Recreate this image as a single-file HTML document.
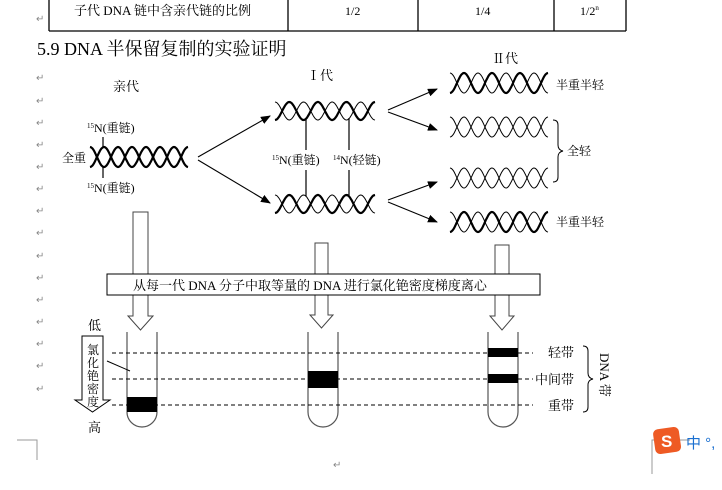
<!DOCTYPE html>
<html><head><meta charset="utf-8"><style>
html,body{margin:0;padding:0;background:#fff;width:722px;height:490px;overflow:hidden}
svg{display:block}
text{font-family:"Liberation Serif","Noto Serif CJK SC","Noto Sans CJK SC",serif;fill:#000}
.r{fill:#888;font-size:10px;font-family:"Liberation Sans",sans-serif}
</style></head><body>
<svg id="s" width="722" height="490" viewBox="0 0 722 490" xmlns="http://www.w3.org/2000/svg">
<!-- table -->
<g stroke="#000" stroke-width="1.3" fill="none">
<line x1="49" y1="0" x2="49" y2="31"/><line x1="288" y1="0" x2="288" y2="31"/>
<line x1="418" y1="0" x2="418" y2="31"/><line x1="554" y1="0" x2="554" y2="31"/>
<line x1="626" y1="0" x2="626" y2="31"/><line x1="49" y1="31" x2="626" y2="31"/>
</g>
<text x="74" y="15" font-size="13">子代 DNA 链中含亲代链的比例</text>
<text x="345" y="15" font-size="12">1/2</text>
<text x="475" y="15" font-size="12">1/4</text>
<text x="580" y="15" font-size="12">1/2<tspan font-size="7" dy="-5">n</tspan></text>
<text x="37" y="55" font-size="18">5.9 DNA 半保留复制的实验证明</text>
<text x="113" y="91" font-size="13">亲代</text>
<text x="307" y="80" font-size="13">Ⅰ代</text>
<text x="492" y="63" font-size="13">Ⅱ代</text>
<g id="marks"></g>
<g id="helix"></g>
<!-- parent labels -->
<g stroke="#000" stroke-width="1.2">
<line x1="103" y1="137" x2="103" y2="148"/><line x1="103" y1="167" x2="103" y2="178"/>
<line x1="306" y1="118" x2="306" y2="150"/><line x1="349" y1="118" x2="349" y2="150"/>
<line x1="306" y1="170" x2="306" y2="196"/><line x1="349" y1="170" x2="349" y2="196"/>
</g>
<text x="87" y="132" font-size="12"><tspan font-size="7" dy="-4">15</tspan><tspan dy="4">N(重链)</tspan></text>
<text x="87" y="192" font-size="12"><tspan font-size="7" dy="-4">15</tspan><tspan dy="4">N(重链)</tspan></text>
<text x="62" y="162" font-size="12">全重</text>
<text x="272" y="164" font-size="12"><tspan font-size="7" dy="-4">15</tspan><tspan dy="4">N(重链)</tspan></text>
<text x="333" y="164" font-size="12"><tspan font-size="7" dy="-4">14</tspan><tspan dy="4">N(轻链)</tspan></text>
<text x="556" y="89" font-size="12">半重半轻</text>
<text x="556" y="226" font-size="12">半重半轻</text>
<text x="567" y="155" font-size="12">全轻</text>
<path d="M553 120 q5 0 5 5 v20 q0 5 5 6 q-5 1 -5 6 v20 q0 5 -5 5" stroke="#000" fill="none"/>
<!-- arrows -->
<defs><marker id="a" markerWidth="10" markerHeight="8" refX="9" refY="4" orient="auto" markerUnits="userSpaceOnUse"><path d="M0 0 L10 4 L0 8z" fill="#000"/></marker></defs>
<g stroke="#000" stroke-width="1.1" marker-end="url(#a)">
<line x1="198" y1="157" x2="270" y2="116"/><line x1="198" y1="160" x2="270" y2="203"/>
<line x1="388" y1="110" x2="437" y2="89"/><line x1="388" y1="112" x2="437" y2="130"/>
<line x1="388" y1="200" x2="437" y2="182"/><line x1="388" y1="202" x2="437" y2="222"/>
</g>
<!-- block arrows -->
<g stroke="#444" fill="#fff" stroke-width="1">
<rect x="133" y="212" width="15" height="62"/>
<rect x="315" y="243" width="13" height="31"/>
<rect x="495" y="245" width="14" height="29"/>
<path d="M133 295 V316 H128 L140.5 330 L153 316 H148 V295"/>
<path d="M315 295 V315 H310 L321.5 328 L333 315 H328 V295"/>
<path d="M495 295 V316 H490 L502 330 L514 316 H509 V295"/>
</g>
<rect x="107" y="274" width="433" height="21" stroke="#000" fill="#fff"/>
<text x="133" y="290" font-size="13">从每一代 DNA 分子中取等量的 DNA 进行氯化铯密度梯度离心</text>
<!-- tubes -->
<g stroke="#555" stroke-width="1.2" fill="none">
<path d="M127 332 V412 a15 15 0 0 0 30 0 V332"/>
<path d="M308 332 V412 a15 15 0 0 0 30 0 V332"/>
<path d="M488 332 V412 a15 15 0 0 0 30 0 V332"/>
</g>
<g stroke="#000" stroke-dasharray="4,3" stroke-width="1">
<line x1="112" y1="353" x2="533" y2="353"/><line x1="112" y1="379" x2="533" y2="379"/><line x1="112" y1="405" x2="533" y2="405"/>
</g>
<g fill="#000">
<rect x="127" y="397" width="30" height="15"/><rect x="308" y="371" width="30" height="17"/>
<rect x="488" y="348" width="30" height="9"/><rect x="488" y="374" width="30" height="9"/>
</g>
<path d="M82 336 H103 V400 H110 L92.5 412 L75 400 H82Z" stroke="#000" fill="#fff"/>
<g font-size="12"><text x="87" y="354">氯</text><text x="87" y="367">化</text><text x="87" y="380">铯</text><text x="87" y="393">密</text><text x="87" y="406">度</text></g>
<line x1="107" y1="361" x2="130" y2="371" stroke="#000"/>
<text x="88" y="330" font-size="13">低</text>
<text x="88" y="432" font-size="13">高</text>
<text x="548" y="357" font-size="13">轻带</text>
<text x="535" y="384" font-size="13">中间带</text>
<text x="548" y="410" font-size="13">重带</text>
<path d="M583 346 q5 0 5 5 v22 q0 5 5 6 q-5 1 -5 6 v22 q0 5 -5 5" stroke="#000" fill="none"/>
<text x="0" y="0" font-size="13" transform="translate(600,353) rotate(90)">DNA 带</text>
<!-- page corners -->
<g stroke="#999" fill="none"><path d="M17 440 H37 V460"/><path d="M690 440 H652 V474"/></g>
<rect x="654" y="428" width="26" height="25" rx="5" fill="#ee5a24" transform="rotate(-8 667 440)"/>
<text x="661" y="447" font-size="17" font-weight="bold" style="fill:#fff;font-family:'Liberation Sans',sans-serif">S</text>
<text x="686" y="448" font-size="15" style="fill:#1a6fd0;font-family:'Liberation Sans','Noto Sans CJK SC',sans-serif">中 °,</text>
<text class="r" x="333" y="468">↵</text>
</svg>
<script>
var NS="http://www.w3.org/2000/svg";
function el(p,t,a){var e=document.createElementNS(NS,t);for(var k in a)e.setAttribute(k,a[k]);p.appendChild(e);return e;}
var H=document.getElementById('helix');
function helix(x,y,w,h,n,w1,w2){
  var amp=h/2,cy=y+h/2;
  [[0,w1],[Math.PI,w2]].forEach(function(s){
    var d="";
    for(var i=0;i<=120;i++){var t=i/120;var px=x+t*w;var py=cy+amp*Math.cos(t*n*Math.PI*2+s[0]);d+=(i?"L":"M")+px.toFixed(1)+" "+py.toFixed(1);}
    el(H,'path',{d:d,stroke:'#000','stroke-width':s[1],fill:'none'});
  });
}
helix(90,147,98,20,3.5,2.2,2.2);
helix(275,102,100,18,3.5,2.2,1);
helix(275,195,100,18,3.5,2.2,1);
helix(450,73,98,20,3.5,2.2,1);
helix(450,117,98,20,3.5,1,1);
helix(450,168,98,20,3.5,1,1);
helix(450,212,98,20,3.5,2.2,1);
var M=document.getElementById('marks');
[18,77,100,122,144,166,188,210,232,255,277,299,321,343,365,388].forEach(function(y){var t=el(M,'text',{x:36,y:y+4,'class':'r'});t.textContent='↵';});
</script>
</body></html>
